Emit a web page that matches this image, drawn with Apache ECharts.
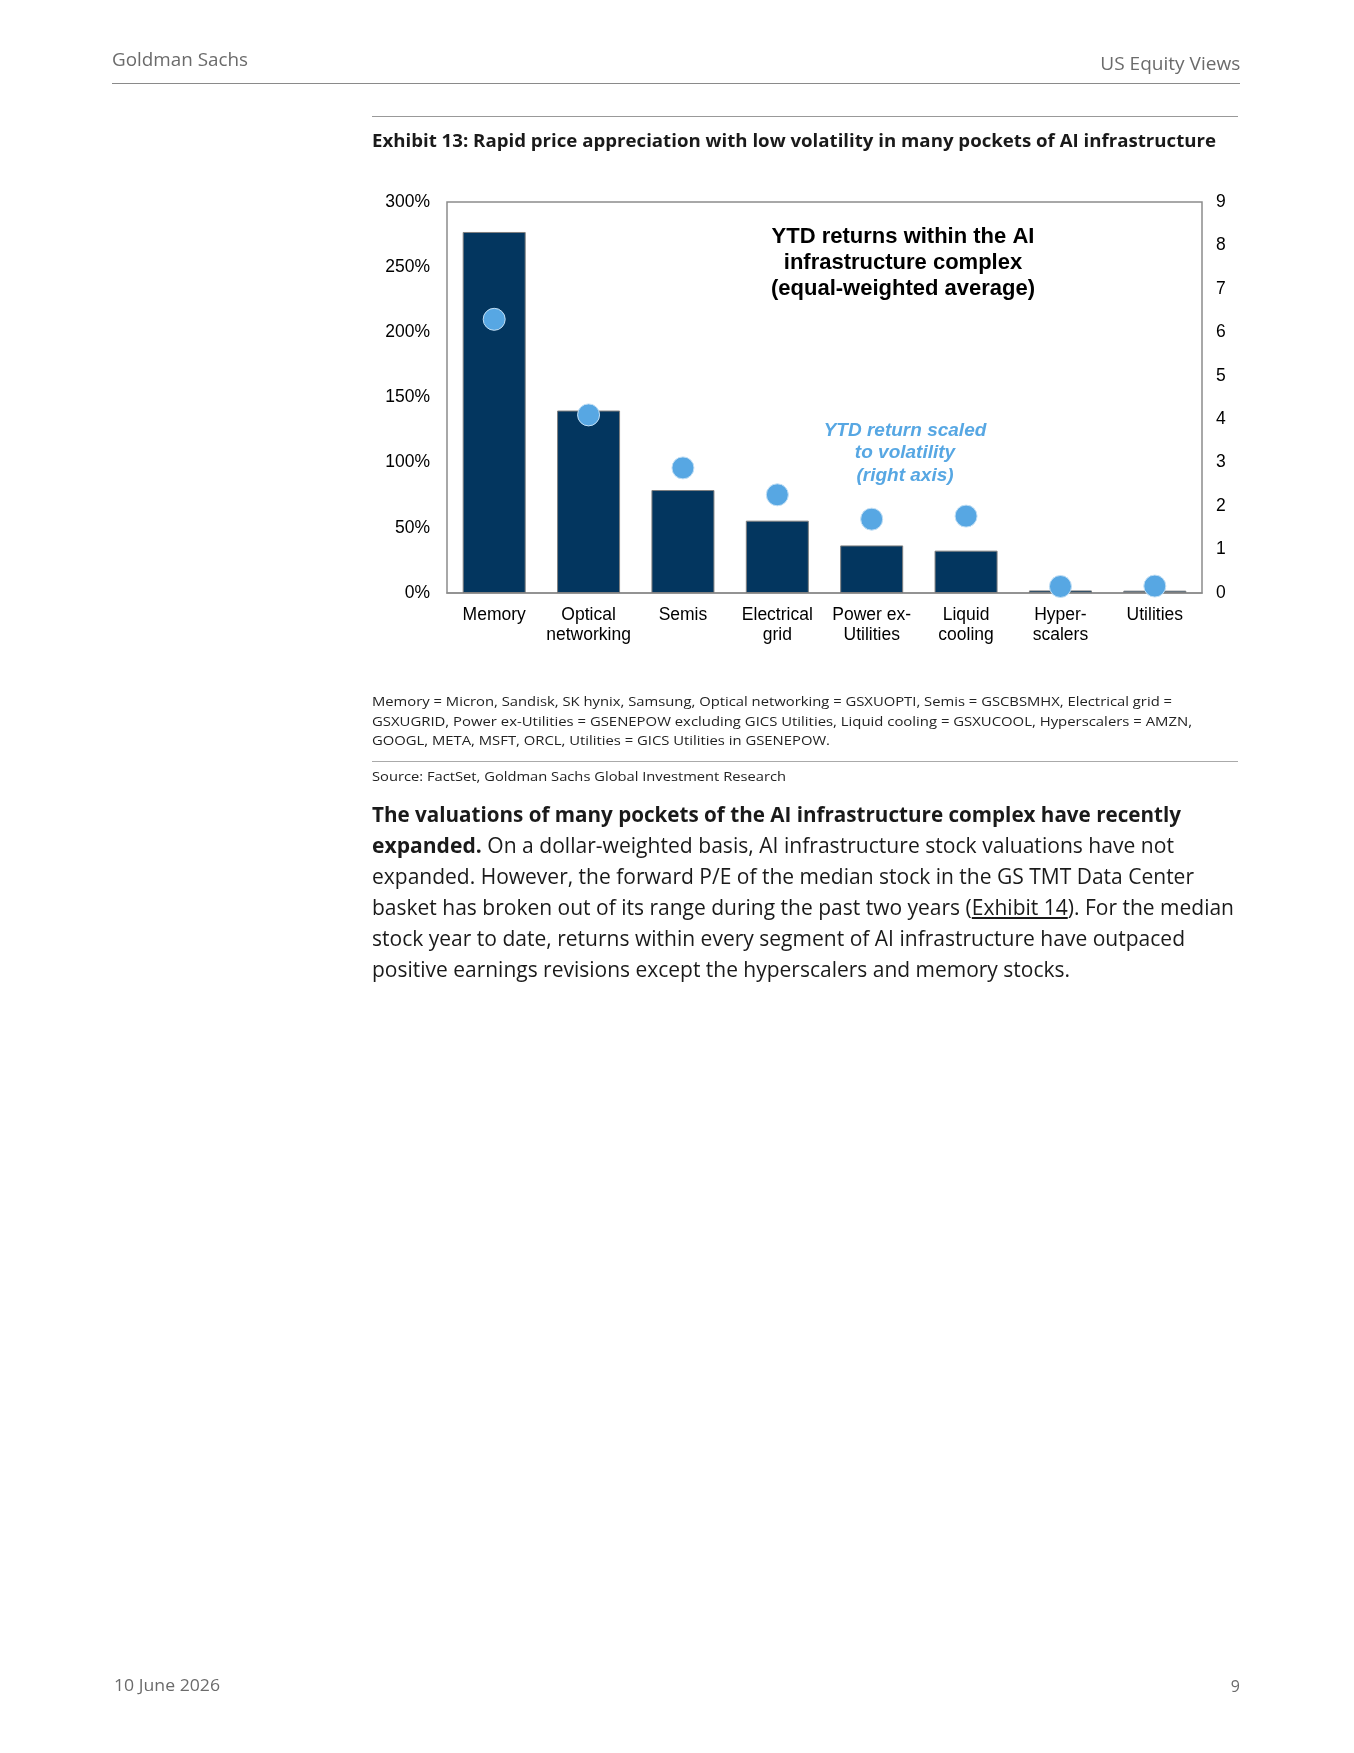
<!DOCTYPE html>
<html>
<head>
<meta charset="utf-8">
<script src="https://cdn.jsdelivr.net/npm/echarts@6/dist/echarts.min.js"></script>
<style>
  body { margin: 0; background: #fff; }
  #page { position: relative; width: 1354px; height: 1753px; overflow: hidden; font-family: "Open Sans", "Noto Sans", sans-serif; }
  #chart { position: absolute; left: 0; top: 0; width: 1354px; height: 1753px; }
  .t { position: absolute; white-space: nowrap; transform-origin: 0 50%; }
  .r { transform-origin: 100% 50%; }
  .rule { position: absolute; height: 0; }
</style>
</head>
<body>
<div id="page">
  <div id="chart"></div>

  <!-- page header -->
  <div class="t" data-w="136" style="left:112px;top:47px;font-size:18px;line-height:24px;color:#6b6b6b">Goldman Sachs</div>
  <div class="t r" data-w="140" style="right:114px;top:51px;font-size:18px;line-height:24px;color:#6b6b6b">US Equity Views</div>
  <div class="rule" style="left:112px;top:83px;width:1128px;border-top:1.5px solid #8a8a8a"></div>

  <!-- exhibit -->
  <div class="rule" style="left:372px;top:116px;width:866px;border-top:1.5px solid #999"></div>
  <div class="t" data-w="844" style="left:372px;top:128px;font-size:18.5px;line-height:24px;font-weight:bold;color:#1a1a1a">Exhibit 13: Rapid price appreciation with low volatility in many pockets of AI infrastructure</div>

  <div class="t" data-w="800" style="left:372px;top:691px;font-size:13.5px;line-height:20px;color:#222">Memory = Micron, Sandisk, SK hynix, Samsung, Optical networking = GSXUOPTI, Semis = GSCBSMHX, Electrical grid =</div>
  <div class="t" data-w="820" style="left:372px;top:711px;font-size:13.5px;line-height:20px;color:#222">GSXUGRID, Power ex-Utilities = GSENEPOW excluding GICS Utilities, Liquid cooling = GSXUCOOL, Hyperscalers = AMZN,</div>
  <div class="t" data-w="458" style="left:372px;top:730px;font-size:13.5px;line-height:20px;color:#222">GOOGL, META, MSFT, ORCL, Utilities = GICS Utilities in GSENEPOW.</div>
  <div class="rule" style="left:372px;top:761px;width:866px;border-top:1.5px solid #aaa"></div>
  <div class="t" data-w="414" style="left:372px;top:766px;font-size:13.5px;line-height:20px;color:#222">Source: FactSet, Goldman Sachs Global Investment Research</div>

  <!-- body paragraph -->
  <div class="t" data-w="809" style="left:372px;top:798px;font-size:21px;line-height:32px;color:#1a1a1a"><b>The valuations of many pockets of the AI infrastructure complex have recently</b></div>
  <div class="t" data-w="802" style="left:372px;top:829px;font-size:21px;line-height:32px;color:#1a1a1a"><b>expanded.</b> On a dollar-weighted basis, AI infrastructure stock valuations have not</div>
  <div class="t" data-w="822" style="left:372px;top:860px;font-size:21px;line-height:32px;color:#1a1a1a">expanded. However, the forward P/E of the median stock in the GS TMT Data Center</div>
  <div class="t" data-w="862" style="left:372px;top:891px;font-size:21px;line-height:32px;color:#1a1a1a">basket has broken out of its range during the past two years (<u>Exhibit 14</u>). For the median</div>
  <div class="t" data-w="813" style="left:372px;top:922px;font-size:21px;line-height:32px;color:#1a1a1a">stock year to date, returns within every segment of AI infrastructure have outpaced</div>
  <div class="t" data-w="698" style="left:372px;top:953px;font-size:21px;line-height:32px;color:#1a1a1a">positive earnings revisions except the hyperscalers and memory stocks.</div>

  <!-- footer -->
  <div class="t" data-w="106" style="left:114px;top:1674px;font-size:16px;line-height:22px;color:#6b6b6b">10 June 2026</div>
  <div class="t r" style="right:114px;top:1675px;font-size:16px;line-height:22px;color:#6b6b6b">9</div>
</div>

<script>
  // segments of the AI infrastructure complex
  var categories = ['Memory', 'Optical\nnetworking', 'Semis', 'Electrical\ngrid', 'Power ex-\nUtilities', 'Liquid\ncooling', 'Hyper-\nscalers', 'Utilities'];
  // YTD return, equal-weighted average (%)
  var ytdReturn = [277, 140, 79, 55.5, 36.5, 32.5, 2, 1.8];
  // YTD return scaled to volatility (right axis)
  var scaledReturn = [6.3, 4.1, 2.88, 2.26, 1.7, 1.77, 0.15, 0.16];

  var leftTicks = [0, 300, 50];
  var rightTicks = [0, 9, 1];

  // squeeze each text line to the width it has in the report
  document.querySelectorAll('.t[data-w]').forEach(function (el) {
    var w = el.getBoundingClientRect().width;
    var target = +el.getAttribute('data-w');
    if (w > 0) el.style.transform = 'scaleX(' + (target / w) + ')';
  });

  var chart = echarts.init(document.getElementById('chart'));
  var axisFont = 'Liberation Sans, Arial, sans-serif';

  var option = {
    animation: false,
    backgroundColor: '#fff',
    grid: {
      left: 447,
      top: 202,
      width: 755,
      height: 391,
      show: true,
      borderColor: '#8c8c8c',
      borderWidth: 1.5,
      backgroundColor: 'transparent'
    },
    xAxis: {
      type: 'category',
      data: categories,
      axisLine: { show: true, lineStyle: { color: '#8c8c8c', width: 1.5 } },
      axisTick: { show: false },
      axisLabel: {
        color: '#000',
        fontFamily: axisFont,
        fontSize: 17.5,
        lineHeight: 20,
        margin: 12,
        interval: 0
      }
    },
    yAxis: [{
      type: 'value',
      min: leftTicks[0],
      max: leftTicks[1],
      interval: leftTicks[2],
      splitLine: { show: false },
      axisLine: { show: false },
      axisTick: { show: false },
      axisLabel: {
        color: '#000',
        fontFamily: axisFont,
        fontSize: 17.5,
        margin: 17,
        formatter: '{value}%'
      }
    }, {
      type: 'value',
      position: 'right',
      min: rightTicks[0],
      max: rightTicks[1],
      interval: rightTicks[2],
      splitLine: { show: false },
      axisLine: { show: false },
      axisTick: { show: false },
      axisLabel: {
        color: '#000',
        fontFamily: axisFont,
        fontSize: 17.5,
        margin: 14
      }
    }],
    series: [{
      name: 'YTD returns',
      type: 'bar',
      yAxisIndex: 0,
      data: ytdReturn,
      barWidth: 63,
      itemStyle: {
        color: '#03365F',
        borderColor: '#7f7f7f',
        borderWidth: 1
      },
      z: 2
    }, {
      name: 'YTD return scaled to volatility',
      type: 'scatter',
      yAxisIndex: 1,
      data: scaledReturn,
      symbol: 'circle',
      symbolSize: 22,
      itemStyle: {
        color: '#57A7E3',
        borderColor: '#C4E0F5',
        borderWidth: 1,
        opacity: 1
      },
      z: 3
    }],
    graphic: [{
      type: 'text',
      x: 903,
      y: 224,
      style: {
        text: 'YTD returns within the AI\ninfrastructure complex\n(equal-weighted average)',
        fill: '#000',
        font: 'bold 22px Liberation Sans, Arial, sans-serif',
        lineHeight: 26,
        align: 'center',
        verticalAlign: 'top'
      }
    }, {
      type: 'text',
      x: 905,
      y: 419,
      style: {
        text: 'YTD return scaled\nto volatility\n(right axis)',
        fill: '#57A7E3',
        font: 'italic bold 19px Liberation Sans, Arial, sans-serif',
        lineHeight: 22.7,
        align: 'center',
        verticalAlign: 'top'
      }
    }]
  };

  chart.setOption(option);
</script>
</body>
</html>
